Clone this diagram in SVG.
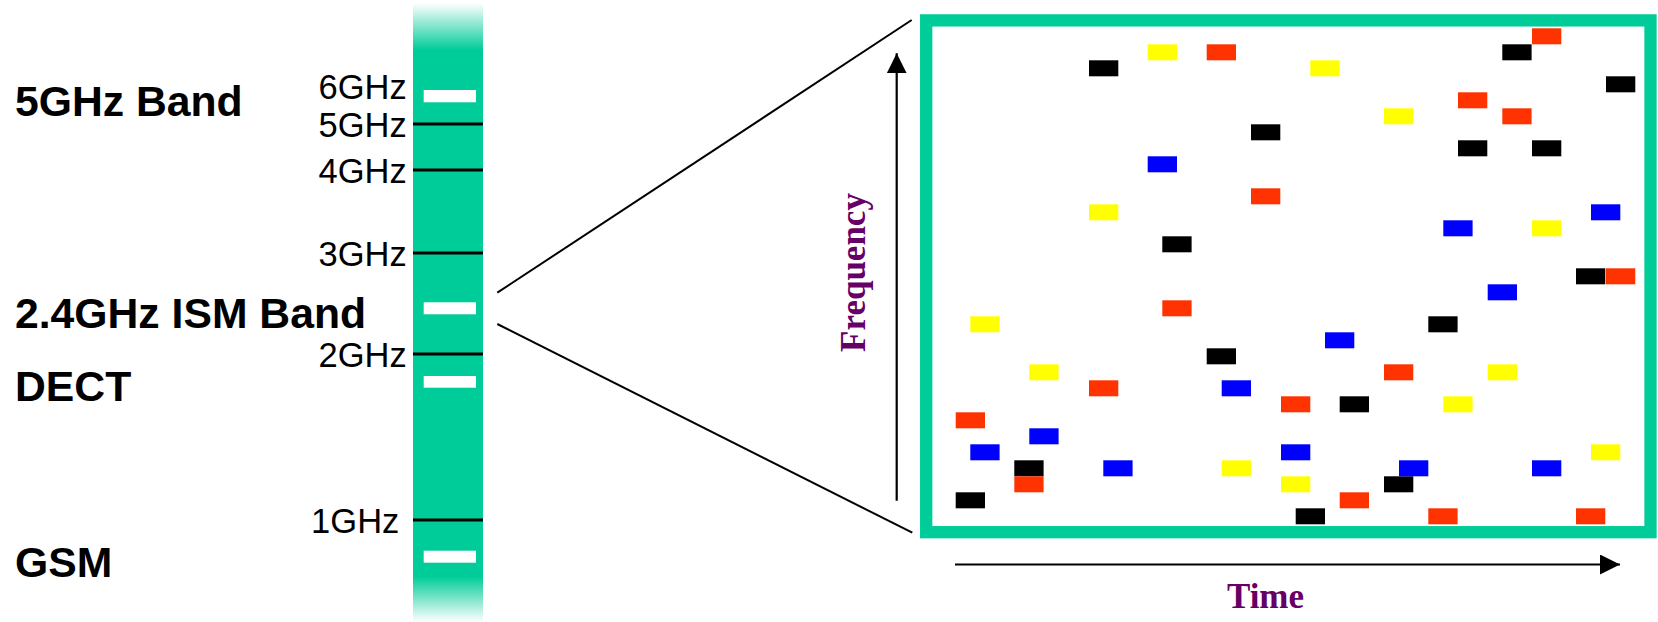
<svg xmlns="http://www.w3.org/2000/svg" width="1658" height="622" viewBox="0 0 1658 622">
<style>
.band{font-family:"Liberation Sans",Arial,sans-serif;font-weight:bold;font-size:42.7px;fill:#000}
.ghz{font-family:"Liberation Sans",Arial,sans-serif;font-size:34.5px;fill:#000;text-anchor:end}
.axis{font-family:"Liberation Serif","Times New Roman",serif;font-weight:bold;font-size:35px;fill:#660066;text-anchor:middle}
.tick{stroke:#000;stroke-width:3}
.wb{fill:#fff}
.ln{stroke:#000;stroke-width:2;fill:none}
.k{fill:#000}.r{fill:#FF3300}.y{fill:#FFFF00}.u{fill:#0000FF}
</style>
<defs>
<linearGradient id="gTop" x1="0" y1="0" x2="0" y2="1">
<stop offset="0" stop-color="#00CC99" stop-opacity="0"/>
<stop offset="1" stop-color="#00CC99" stop-opacity="1"/>
</linearGradient>
<linearGradient id="gBot" x1="0" y1="0" x2="0" y2="1">
<stop offset="0" stop-color="#00CC99" stop-opacity="1"/>
<stop offset="1" stop-color="#00CC99" stop-opacity="0"/>
</linearGradient>
<marker id="ah" viewBox="0 0 20 20" refX="20" refY="10" markerWidth="20" markerHeight="20" markerUnits="userSpaceOnUse" orient="auto">
<path d="M0,0 L20,10 L0,20 z" fill="#000"/>
</marker>
</defs>

<g id="spectrum-bar">
<rect x="413" y="3" width="70" height="47" fill="url(#gTop)"/>
<rect x="413" y="50" width="70" height="527" fill="#00CC99"/>
<rect x="413" y="576.5" width="70" height="45.5" fill="url(#gBot)"/>
<line class="tick" x1="413" y1="124" x2="483" y2="124"/>
<line class="tick" x1="413" y1="170" x2="483" y2="170"/>
<line class="tick" x1="413" y1="253" x2="483" y2="253"/>
<line class="tick" x1="413" y1="354" x2="483" y2="354"/>
<line class="tick" x1="413" y1="520" x2="483" y2="520"/>
<rect class="wb" x="423.7" y="90" width="52.3" height="12.3"/>
<rect class="wb" x="423.7" y="302.3" width="52.3" height="12"/>
<rect class="wb" x="423.7" y="376" width="52.3" height="11.7"/>
<rect class="wb" x="423.7" y="550.7" width="52.3" height="12"/>
</g>

<g id="ghz-labels">
<text class="ghz" x="406.7" y="99.3">6GHz</text>
<text class="ghz" x="406.7" y="136.7">5GHz</text>
<text class="ghz" x="406.7" y="182.7">4GHz</text>
<text class="ghz" x="406.7" y="265.7">3GHz</text>
<text class="ghz" x="406.7" y="366.7">2GHz</text>
<text class="ghz" x="399.3" y="532.7">1GHz</text>
</g>

<g id="band-labels">
<text class="band" x="15" y="116">5GHz Band</text>
<text class="band" x="15" y="328.3">2.4GHz ISM Band</text>
<text class="band" x="15" y="401">DECT</text>
<text class="band" x="15" y="576.7">GSM</text>
</g>

<g id="connectors">
<line class="ln" x1="497.3" y1="292.7" x2="911.7" y2="20"/>
<line class="ln" x1="497.3" y1="324" x2="912.3" y2="532.7"/>
</g>

<g id="axes">
<line class="ln" x1="896.7" y1="500.7" x2="896.7" y2="53.3" marker-end="url(#ah)" style="stroke-width:2.2"/>
<line class="ln" x1="955" y1="564.5" x2="1620" y2="564.5" marker-end="url(#ah)" style="stroke-width:2.2"/>
<text class="axis" transform="translate(865,272.5) rotate(-90)" x="0" y="0">Frequency</text>
<text class="axis" x="1265.5" y="608.3">Time</text>
</g>

<g id="hopping-frame">
<rect x="926.2" y="20.4" width="724.3" height="511.8" fill="#fff" stroke="#00CC99" stroke-width="12.3"/>
</g>

<g id="hops">
<rect class="k" x="1089" y="60.3" width="29.3" height="16"/>
<rect class="k" x="1251" y="124.3" width="29.3" height="16"/>
<rect class="k" x="1162.3" y="236.3" width="29.3" height="16"/>
<rect class="k" x="1502.3" y="44.3" width="29.3" height="16"/>
<rect class="k" x="1606" y="76.3" width="29.3" height="16"/>
<rect class="k" x="1458" y="140.3" width="29.3" height="16"/>
<rect class="k" x="1532" y="140.3" width="29.3" height="16"/>
<rect class="k" x="1576" y="268.3" width="29.3" height="16"/>
<rect class="k" x="1428.3" y="316.3" width="29.3" height="16"/>
<rect class="k" x="1339.7" y="396.3" width="29.3" height="16"/>
<rect class="k" x="1384" y="476.3" width="29.3" height="16"/>
<rect class="k" x="1295.7" y="508.3" width="29.3" height="16"/>
<rect class="k" x="1206.7" y="348.3" width="29.3" height="16"/>
<rect class="k" x="1014.3" y="460.3" width="29.3" height="16"/>
<rect class="k" x="955.7" y="492.3" width="29.3" height="16"/>

<rect class="r" x="1206.7" y="44.3" width="29.3" height="16"/>
<rect class="r" x="1251" y="188.3" width="29.3" height="16"/>
<rect class="r" x="1532" y="28.3" width="29.3" height="16"/>
<rect class="r" x="1458" y="92.3" width="29.3" height="16"/>
<rect class="r" x="1502.3" y="108.3" width="29.3" height="16"/>
<rect class="r" x="1606" y="268.3" width="29.3" height="16"/>
<rect class="r" x="1384" y="364.3" width="29.3" height="16"/>
<rect class="r" x="1281" y="396.3" width="29.3" height="16"/>
<rect class="r" x="1339.7" y="492.3" width="29.3" height="16"/>
<rect class="r" x="1428.3" y="508.3" width="29.3" height="16"/>
<rect class="r" x="1576" y="508.3" width="29.3" height="16"/>
<rect class="r" x="1162.3" y="300.3" width="29.3" height="16"/>
<rect class="r" x="1089" y="380.3" width="29.3" height="16"/>
<rect class="r" x="955.7" y="412.3" width="29.3" height="16"/>
<rect class="r" x="1014.3" y="476.3" width="29.3" height="16"/>

<rect class="y" x="1147.7" y="44.3" width="29.3" height="16"/>
<rect class="y" x="1089" y="204.3" width="29.3" height="16"/>
<rect class="y" x="1310.3" y="60.3" width="29.3" height="16"/>
<rect class="y" x="1384" y="108.3" width="29.3" height="16"/>
<rect class="y" x="1532" y="220.3" width="29.3" height="16"/>
<rect class="y" x="1487.7" y="364.3" width="29.3" height="16"/>
<rect class="y" x="1443.3" y="396.3" width="29.3" height="16"/>
<rect class="y" x="1591" y="444.3" width="29.3" height="16"/>
<rect class="y" x="1281" y="476.3" width="29.3" height="16"/>
<rect class="y" x="970.3" y="316.3" width="29.3" height="16"/>
<rect class="y" x="1029.3" y="364.3" width="29.3" height="16"/>
<rect class="y" x="1221.7" y="460.3" width="29.3" height="16"/>

<rect class="u" x="1147.7" y="156.3" width="29.3" height="16"/>
<rect class="u" x="1591" y="204.3" width="29.3" height="16"/>
<rect class="u" x="1443.3" y="220.3" width="29.3" height="16"/>
<rect class="u" x="1487.7" y="284.3" width="29.3" height="16"/>
<rect class="u" x="1325" y="332.3" width="29.3" height="16"/>
<rect class="u" x="1281" y="444.3" width="29.3" height="16"/>
<rect class="u" x="1399" y="460.3" width="29.3" height="16"/>
<rect class="u" x="1532" y="460.3" width="29.3" height="16"/>
<rect class="u" x="1221.7" y="380.3" width="29.3" height="16"/>
<rect class="u" x="1029.3" y="428.3" width="29.3" height="16"/>
<rect class="u" x="970.3" y="444.3" width="29.3" height="16"/>
<rect class="u" x="1103.3" y="460.3" width="29.3" height="16"/>
</g>
</svg>
